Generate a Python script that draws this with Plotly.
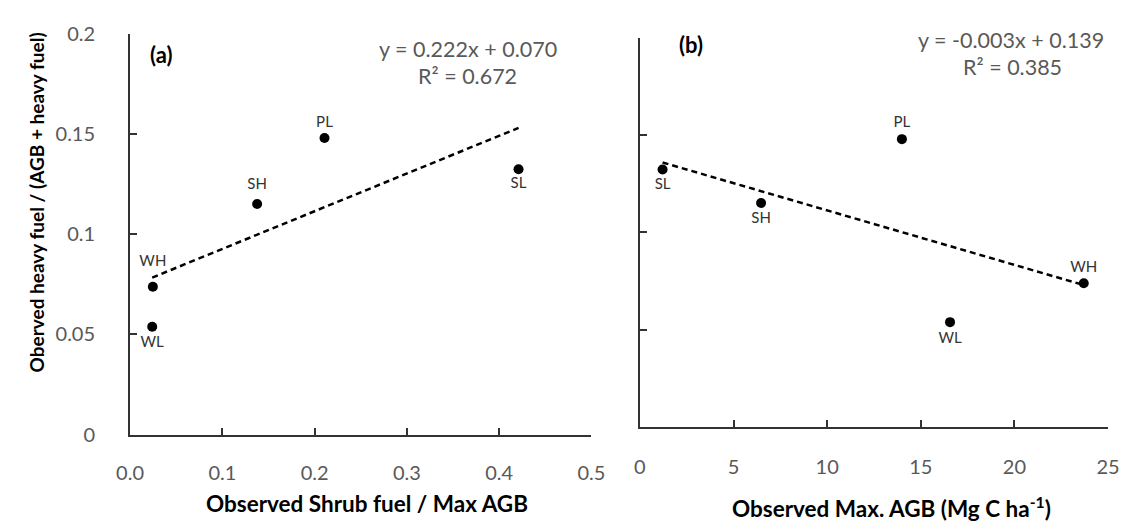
import numpy as np
import plotly.graph_objects as go

# ---- data ----
sites = ["PL", "SH", "SL", "WH", "WL"]
heavy_ratio = [0.148, 0.1151, 0.1324, 0.0738, 0.0538]
shrub_ratio = [0.2107, 0.1377, 0.421, 0.0247, 0.024]
max_agb = [13.99, 6.47, 1.21, 23.70, 16.56]

eq_a = ["y = 0.222x + 0.070", "R² = 0.672"]
eq_b = ["y = -0.003x + 0.139", "R² = 0.385"]

x_ticks_a = [0, 0.1, 0.2, 0.3, 0.4, 0.5]
x_ticks_b = [0, 5, 10, 15, 20, 25]
y_ticks = [0, 0.05, 0.1, 0.15, 0.2]
y_tick_text = ["0", "0.05", "0.1", "0.15", "0.2"]

# ---- label styling (placement per point) ----
pos_a = ["top center", "top center", "bottom center", "top center", "bottom center"]
pos_b = ["top center", "bottom center", "bottom center", "top center", "bottom center"]
gap_a = [10, 16, 10, 26, 12]
gap_b = [12, 12, 12, 10, 14]

W, H = 1138, 529
FONT = "Lato"
GRAY = "#595959"
AX = "#333333"


def trend(x, y):
    m, b = np.polyfit(x, y, 1)
    xs = np.array([min(x), max(x)])
    return xs, m * xs + b


fig = go.Figure()

for x, xa, ya, pos, gap in [(shrub_ratio, "x", "y", pos_a, gap_a),
                            (max_agb, "x2", "y2", pos_b, gap_b)]:
    tx, ty = trend(x, heavy_ratio)
    fig.add_trace(go.Scatter(x=tx, y=ty, mode="lines", xaxis=xa, yaxis=ya,
                             line=dict(color="black", width=2.5, dash="6px,4px"),
                             showlegend=False, hoverinfo="skip"))
    # labels (offset controlled by invisible marker size)
    fig.add_trace(go.Scatter(x=x, y=heavy_ratio, mode="markers+text", xaxis=xa, yaxis=ya,
                             text=sites, textposition=pos,
                             textfont=dict(family=FONT, size=15, color="#333333"),
                             marker=dict(color="rgba(0,0,0,0)", size=gap,
                                         line=dict(width=0, color="rgba(0,0,0,0)")),
                             showlegend=False, hoverinfo="skip"))
    fig.add_trace(go.Scatter(x=x, y=heavy_ratio, mode="markers", xaxis=xa, yaxis=ya,
                             marker=dict(color="black", size=10, line=dict(width=0)),
                             showlegend=False))

axis_common = dict(showline=True, linecolor=AX, linewidth=2, ticks="inside",
                   tickcolor=AX, tickwidth=2, ticklen=7, showgrid=False, zeroline=False,
                   tickfont=dict(family=FONT, size=20, color=GRAY))

fig.update_layout(
    width=W, height=H,
    margin=dict(l=0, r=0, t=0, b=0),
    paper_bgcolor="white", plot_bgcolor="white",
    font=dict(family=FONT),
    xaxis=dict(domain=[119 / W, 592 / W], range=[0, 0.5], tickvals=x_ticks_a,
               tickformat=".1f", anchor="y", ticklabelstandoff=19, **axis_common),
    yaxis=dict(domain=[1 - 441.7 / H, 1 - 21.7 / H], range=[0, 0.2], tickvals=y_ticks,
               ticktext=y_tick_text, anchor="x", ticklabelstandoff=29, **axis_common),
    xaxis2=dict(domain=[641.7 / W, 1121.7 / W], range=[0, 25], tickvals=x_ticks_b,
                anchor="y2", ticklabelstandoff=21, **axis_common),
    yaxis2=dict(domain=[1 - 433.3 / H, 1 - 26.3 / H], range=[0, 0.2], tickvals=y_ticks,
                showticklabels=False, anchor="x2", **axis_common),
)

ann = []
def add(text, x, y, size=20, color=GRAY, bold=False, angle=0):
    ann.append(dict(text=f"<b>{text}</b>" if bold else text, x=x / W, y=1 - y / H,
                    xref="paper", yref="paper", showarrow=False, textangle=angle,
                    xanchor="center", yanchor="middle",
                    font=dict(family=FONT, size=size, color=color)))

add(eq_a[0], 465, 38, size=21.5)
add(eq_a[1], 465, 66, size=21.5)
add(eq_b[0], 1022, 28, size=21.5)
add(eq_b[1], 1024, 57, size=21.5)
add("(a)", 151, 43, size=22, color="black", bold=True)
add("(b)", 694, 33, size=22, color="black", bold=True)
add("Observed Shrub fuel / Max AGB", 362, 514, size=22.5, color="black", bold=True)
add("Observed Max. AGB (Mg C ha<sup>-1</sup>)", 900, 517, size=22.5, color="black", bold=True)
add("Oberved heavy fuel / (AGB + heavy fuel)", 23, 198, size=19, color="black", bold=True, angle=-90)

fig.update_layout(annotations=ann)
fig.write_html("out.html")
